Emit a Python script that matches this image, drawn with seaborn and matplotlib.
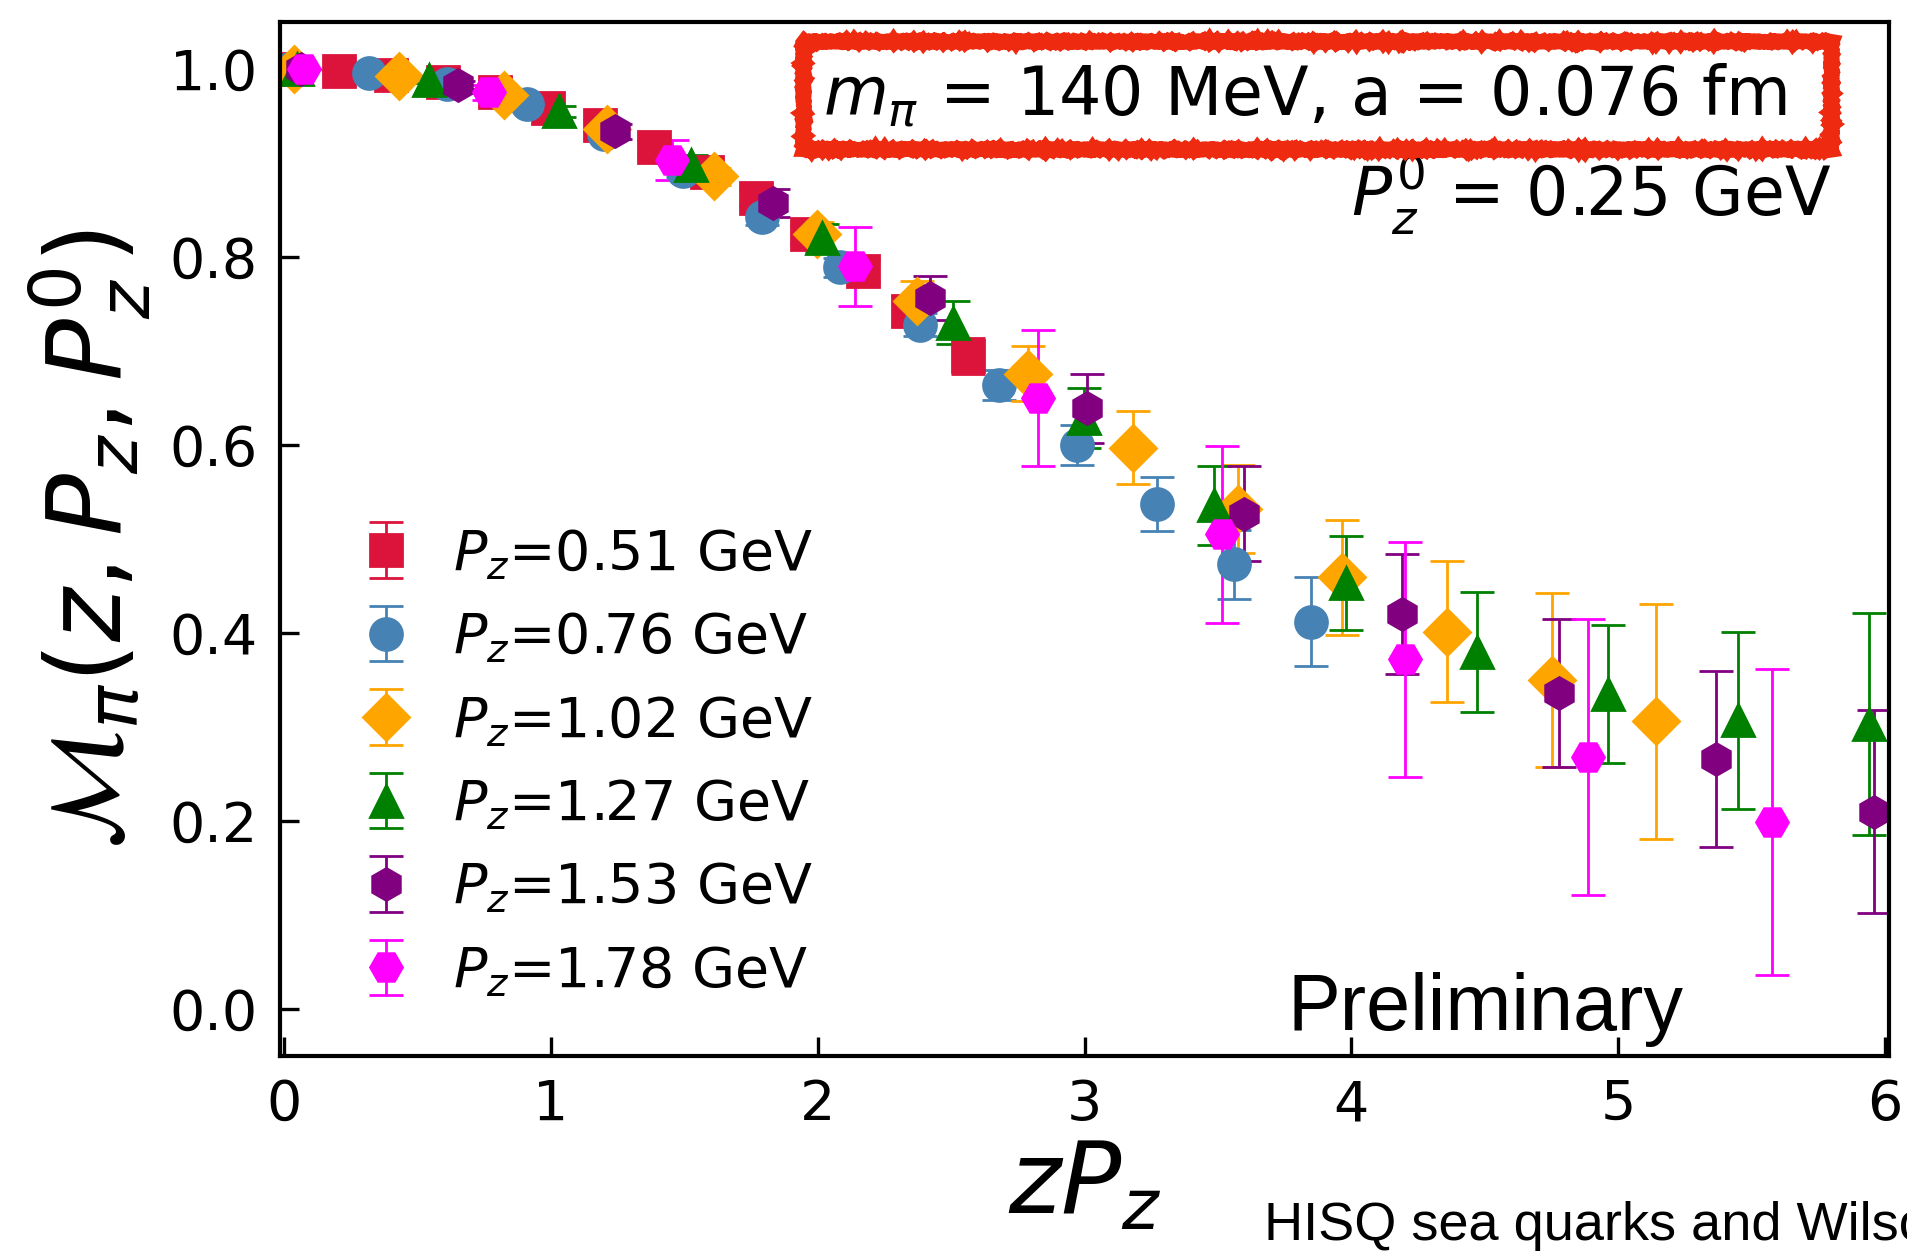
import matplotlib
matplotlib.use("Agg")
import matplotlib.pyplot as plt
import matplotlib.patches as mpatches
import seaborn as sns

# momenta for the legend
labels = ["$P_z$=0.51 GeV", "$P_z$=0.76 GeV", "$P_z$=1.02 GeV",
          "$P_z$=1.27 GeV", "$P_z$=1.53 GeV", "$P_z$=1.78 GeV"]
colors = ["crimson", "steelblue", "orange", "green", "purple", "magenta"]
markers = ["s", "o", "D", "^", "h", "H"]

# Pz = 0.51 GeV
x051 = [0.0, 0.205, 0.40, 0.597, 0.79, 0.99, 1.185, 1.385, 1.585, 1.77, 1.96, 2.17, 2.34, 2.565]
y051 = [1.0, 0.998, 0.994, 0.986, 0.975, 0.959, 0.940, 0.917, 0.890, 0.863, 0.824, 0.785, 0.743, 0.695]
e051 = [0.0, 0.001, 0.002, 0.003, 0.004, 0.005, 0.006, 0.007, 0.008, 0.009, 0.010, 0.012, 0.015, 0.019]

# Pz = 0.76 GeV
x076 = [0.02, 0.318, 0.612, 0.912, 1.198, 1.497, 1.79, 2.085, 2.385, 2.678, 2.97, 3.27, 3.56, 3.85]
y076 = [1.0, 0.996, 0.984, 0.963, 0.931, 0.891, 0.842, 0.789, 0.728, 0.664, 0.600, 0.537, 0.473, 0.412]
e076 = [0.0, 0.001, 0.002, 0.003, 0.005, 0.006, 0.008, 0.010, 0.012, 0.016, 0.021, 0.029, 0.037, 0.047]

# Pz = 1.02 GeV
x102 = [0.036, 0.43, 0.824, 1.21, 1.61, 1.998, 2.372, 2.79, 3.18, 3.577, 3.966, 4.36, 4.75, 5.14]
y102 = [1.0, 0.993, 0.972, 0.936, 0.886, 0.824, 0.753, 0.676, 0.597, 0.532, 0.459, 0.401, 0.350, 0.306]
e102 = [0.0, 0.002, 0.004, 0.006, 0.009, 0.013, 0.021, 0.029, 0.039, 0.047, 0.061, 0.075, 0.093, 0.125]

# Pz = 1.27 GeV
x127 = [0.05, 0.543, 1.03, 1.524, 2.016, 2.507, 2.997, 3.487, 3.98, 4.471, 4.96, 5.45, 5.94]
y127 = [1.0, 0.988, 0.955, 0.898, 0.820, 0.730, 0.629, 0.536, 0.453, 0.380, 0.335, 0.307, 0.303]
e127 = [0.0, 0.003, 0.006, 0.011, 0.015, 0.023, 0.032, 0.042, 0.050, 0.064, 0.073, 0.094, 0.118]

# Pz = 1.53 GeV
x153 = [0.064, 0.653, 1.242, 1.833, 2.42, 3.01, 3.598, 4.19, 4.777, 5.367, 5.957]
y153 = [1.0, 0.983, 0.934, 0.857, 0.756, 0.639, 0.527, 0.420, 0.336, 0.266, 0.210]
e153 = [0.0, 0.004, 0.008, 0.015, 0.0235, 0.037, 0.051, 0.064, 0.079, 0.094, 0.108]

# Pz = 1.78 GeV
x178 = [0.075, 0.768, 1.455, 2.139, 2.826, 3.515, 4.20, 4.888, 5.578]
y178 = [1.0, 0.975, 0.903, 0.790, 0.650, 0.505, 0.372, 0.268, 0.199]
e178 = [0.0, 0.008, 0.021, 0.042, 0.072, 0.094, 0.125, 0.147, 0.163]

xs = [x051, x076, x102, x127, x153, x178]
ys = [y051, y076, y102, y127, y153, y178]
es = [e051, e076, e102, e127, e153, e178]

sns.set_style("ticks")
plt.rcParams['font.family'] = ['DejaVu Sans']
plt.rcParams['mathtext.fontset'] = 'dejavusans'
plt.rcParams['text.color'] = 'black'
plt.rcParams['axes.labelcolor'] = 'black'
plt.rcParams['xtick.color'] = 'black'
plt.rcParams['ytick.color'] = 'black'

fig = plt.figure(figsize=(9.535, 6.285), dpi=200)
ax = fig.add_axes([0.1468, 0.160, 0.8438, 0.8225])

for x, y, e, c, m, lab in zip(xs, ys, es, colors, markers, labels):
    ax.errorbar(x, y, yerr=e, fmt=m, color=c, ms=11.5, capsize=6,
                elinewidth=1.0, capthick=1.0, label=lab)

ax.set_xlim(-0.015, 6.015)
ax.set_ylim(-0.05, 1.05)
ax.set_xticks([0, 1, 2, 3, 4, 5, 6])
ax.set_yticks([0.0, 0.2, 0.4, 0.6, 0.8, 1.0])
ax.set_yticklabels(["0.0", "0.2", "0.4", "0.6", "0.8", "1.0"])
ax.tick_params(direction='in', length=7, width=1.2, labelsize=20,
               top=False, right=False, pad=8, colors='black')
for s in ax.spines.values():
    s.set_linewidth(1.5)
    s.set_color('black')

ax.set_xlabel("$zP_z$", fontsize=36, labelpad=2)
ax.set_ylabel(r"$\mathcal{M}_\pi(z, P_z, P_z^0)$", fontsize=37, labelpad=6)

leg = ax.legend(loc='center left', bbox_to_anchor=(0.035, 0.283), frameon=False,
                fontsize=20, handlelength=1.0, handletextpad=0.7,
                labelspacing=0.53, borderaxespad=0)

# hand-drawn looking red frame around the ensemble info
box = mpatches.Rectangle((0.325, 0.877), 0.639, 0.105, transform=ax.transAxes,
                         facecolor='none', edgecolor='#ee2a10', linewidth=5.3,
                         zorder=5)
box.set_sketch_params(scale=0.8, length=3, randomness=4)
ax.add_patch(box)
ax.text(0.637, 0.929, r"$m_\pi$ = 140 MeV, a = 0.076 fm", transform=ax.transAxes,
        fontsize=24, ha='center', va='center', zorder=6)

ax.text(0.964, 0.833, "$P_z^0$ = 0.25 GeV", transform=ax.transAxes,
        fontsize=24, ha='right', va='center')

ax.text(0.749, 0.045, "Preliminary", transform=ax.transAxes,
        fontsize=28.5, ha='center', va='center', family='Liberation Sans')

fig.text(0.663, 0.005, "HISQ sea quarks and Wilson-clover valence quarks",
         fontsize=19.5, ha='left', va='bottom', family='Liberation Sans')

fig.savefig("out.png", dpi=200)
